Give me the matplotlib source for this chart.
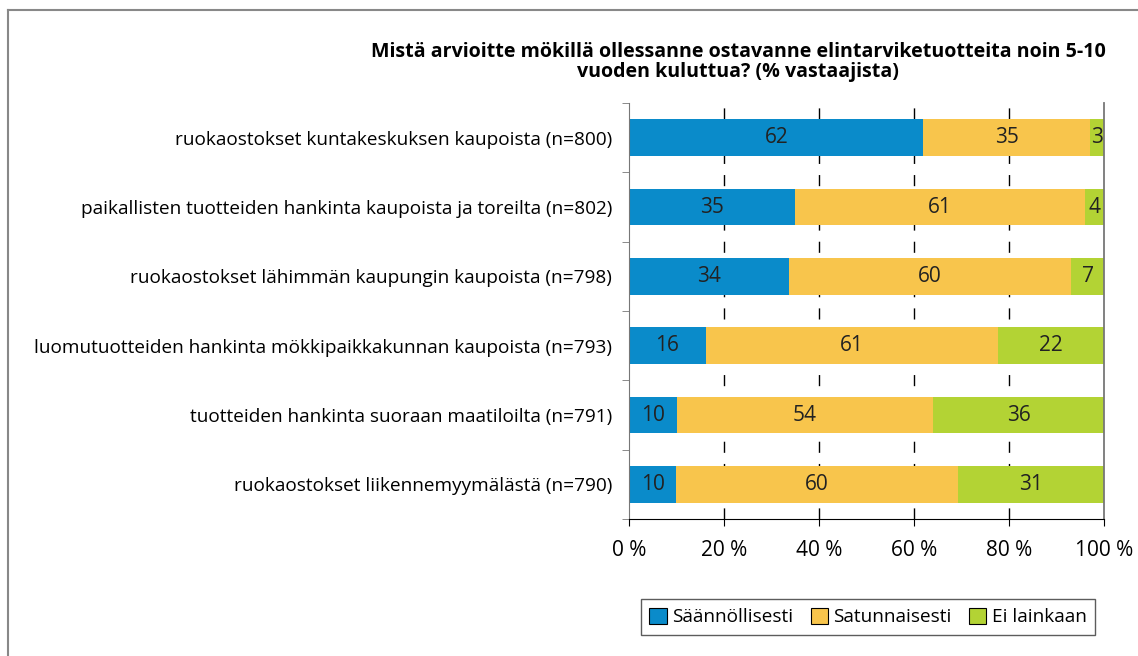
import matplotlib.pyplot as plt
import numpy as np
from matplotlib.lines import Line2D

plt.rcParams['font.family'] = ['Open Sans', 'DejaVu Sans']

categories = ['ruokaostokset kuntakeskuksen kaupoista (n=800)',
              'paikallisten tuotteiden hankinta kaupoista ja toreilta (n=802)',
              'ruokaostokset lähimmän kaupungin kaupoista (n=798)',
              'luomutuotteiden hankinta mökkipaikkakunnan kaupoista (n=793)',
              'tuotteiden hankinta suoraan maatiloilta (n=791)',
              'ruokaostokset liikennemyymälästä (n=790)']
saannollisesti = [62, 35, 34, 16, 10, 10]
satunnaisesti = [35, 61, 60, 61, 54, 60]
ei_lainkaan = [3, 4, 7, 22, 36, 31]
series_names = ['Säännöllisesti', 'Satunnaisesti', 'Ei lainkaan']
colors = ['#0a8bca', '#f8c54c', '#b3d334']
xticks = [0, 20, 40, 60, 80, 100]
title = 'Mistä arvioitte mökillä ollessanne ostavanne elintarviketuotteita noin 5-10\nvuoden kuluttua? (% vastaajista)'

data = np.array([saannollisesti, satunnaisesti, ei_lainkaan], dtype=float)
shares = data / data.sum(axis=0) * 100

fs = 13.7
fs_num = 15

fig = plt.figure(figsize=(11.38, 6.56), dpi=100)
ax = fig.add_axes([629/1138, 137/656, 475/1138, 416/656])

y = np.arange(len(categories))
left = np.zeros(len(categories))
for i in range(3):
    bars = ax.barh(y, shares[i], left=left, height=0.53, color=colors[i],
                   label=series_names[i], zorder=2)
    for j, b in enumerate(bars):
        ax.text(left[j] + shares[i][j] / 2, y[j], '%d' % data[i][j],
                ha='center', va='center', fontsize=fs_num, color='#222222', zorder=3)
    left += shares[i]

for x in xticks[1:-1]:
    ax.axvline(x, color='black', lw=1.0, linestyle=(0, (8, 8)), zorder=1)

ax.set_xlim(0, 100)
ax.set_ylim(len(categories) - 0.5, -0.5)
ax.set_xticks(xticks)
ax.set_xticklabels(['%d %%' % v for v in xticks], fontsize=fs_num)
ax.set_yticks(y)
ax.set_yticklabels(categories, fontsize=fs)
ax.set_yticks(np.arange(-0.5, len(categories), 1), minor=True)
ax.tick_params(axis='y', which='major', length=0, pad=12)
ax.tick_params(axis='y', which='minor', length=5, color='#777777', direction='out')
ax.tick_params(axis='x', length=5, color='black', pad=10, direction='out')

ax.spines['top'].set_visible(False)
ax.spines['left'].set_color('#777777')
ax.spines['right'].set_color('#777777')
ax.spines['right'].set_linewidth(1.3)
ax.spines['bottom'].set_color('black')

fig.text(738/1138, 1 - 62/656, title, ha='center', va='center',
         fontsize=14.1, fontweight='bold', linespacing=1.0)

leg = fig.legend(loc='center', bbox_to_anchor=(868/1138, 1 - 617/656), ncol=3,
                 fontsize=fs, frameon=True, fancybox=False, edgecolor='#333333',
                 handlelength=0.9, handleheight=0.9, handletextpad=0.3,
                 columnspacing=0.9, borderpad=0.45)
leg.get_frame().set_linewidth(1.0)
for h in leg.legend_handles:
    h.set_edgecolor('black')
    h.set_linewidth(0.8)

# outer frame
fig.add_artist(Line2D([8/1138, 8/1138], [0, 1 - 10/656], transform=fig.transFigure,
                      color='#888888', lw=1.5))
fig.add_artist(Line2D([8/1138, 1], [1 - 10/656, 1 - 10/656], transform=fig.transFigure,
                      color='#888888', lw=1.5))

fig.savefig('out.png', dpi=100)
